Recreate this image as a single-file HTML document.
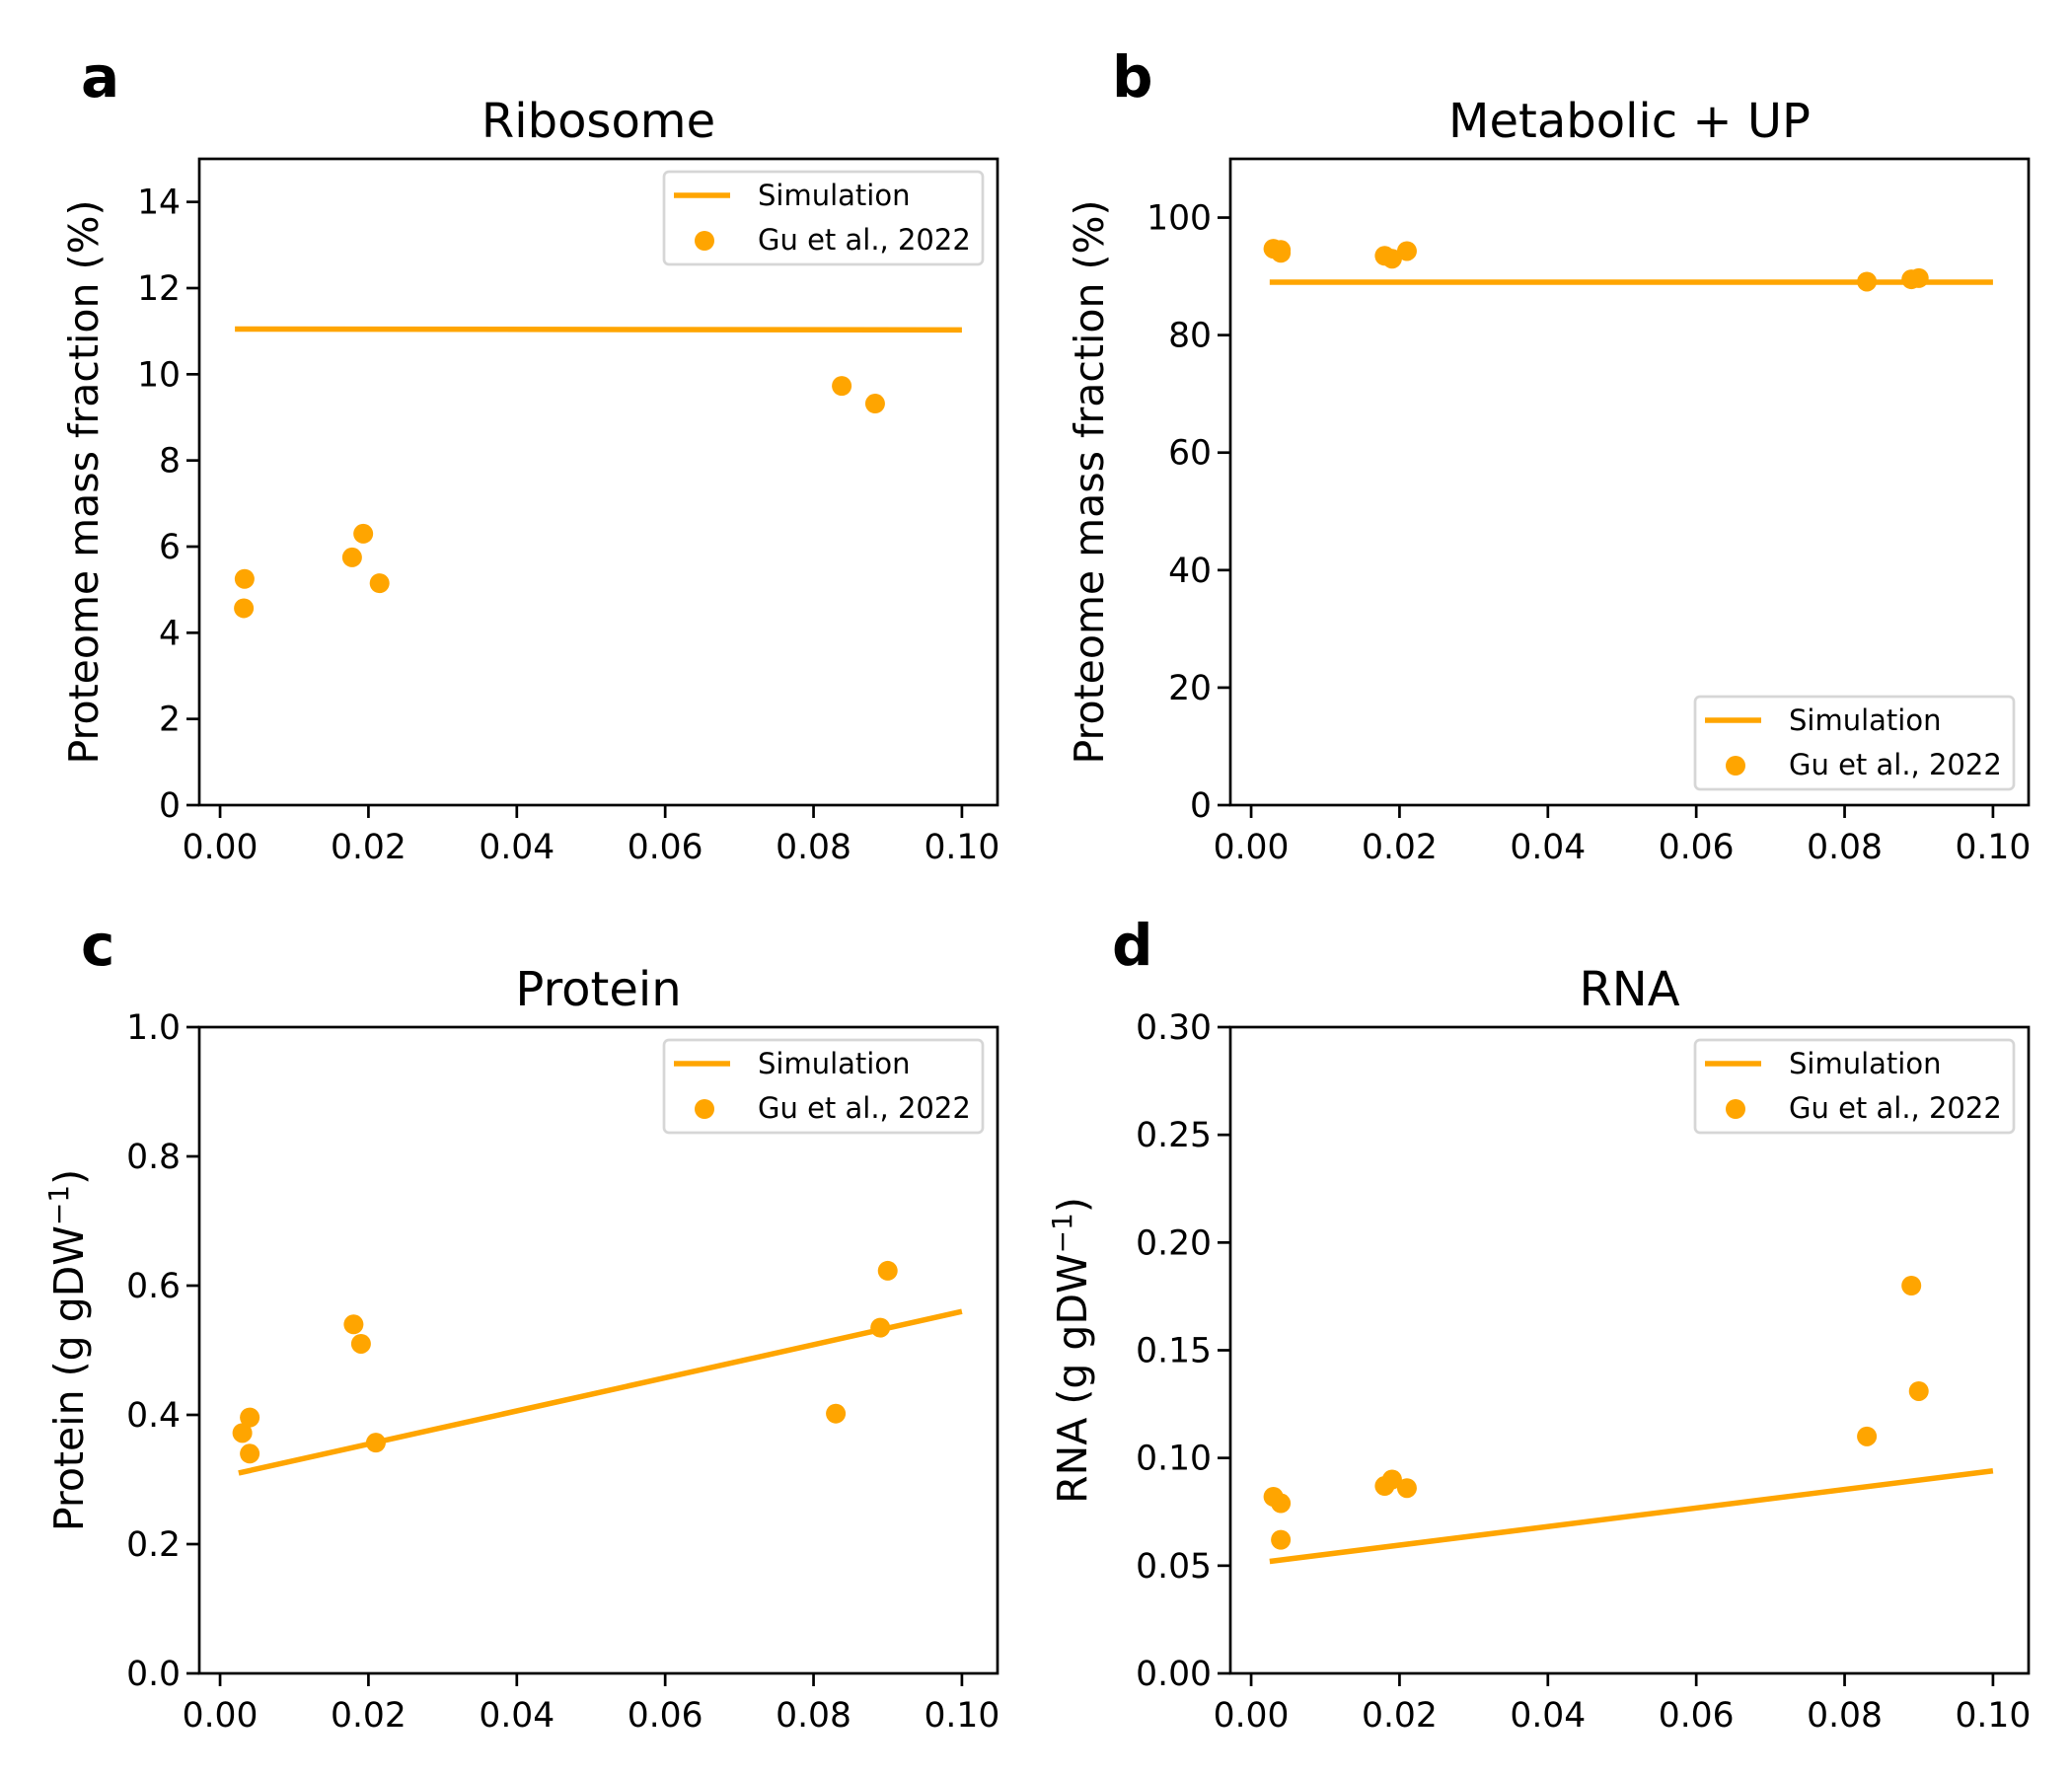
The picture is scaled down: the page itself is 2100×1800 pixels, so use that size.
<!DOCTYPE html>
<html><head><meta charset="utf-8"><style>
html,body{margin:0;padding:0;background:#fff;}
svg{display:block;font-family:"DejaVu Sans","Liberation Sans",sans-serif;}
</style></head><body>
<svg id="fig" width="2100" height="1800" viewBox="0 0 2100 1800" xmlns="http://www.w3.org/2000/svg"></svg>
<script>
const xTicks = [0, 0.02, 0.04, 0.06, 0.08, 0.1];
const xTickLabels = ["0.00","0.02","0.04","0.06","0.08","0.10"];
// Panel a: Ribosome
const aObsX = [0.0033,0.0032,0.0178,0.0193,0.0215,0.0838,0.0883];
const aObsY = [5.25,4.57,5.75,6.3,5.15,9.73,9.32];
const aSimX = [0.002,0.1];
const aSimY = [11.05,11.03];
const aYTicks = [0,2,4,6,8,10,12,14];
const aYLabels = ["0","2","4","6","8","10","12","14"];
// Panel b: Metabolic + UP
const bObsX = [0.003,0.004,0.004,0.018,0.019,0.021,0.083,0.089,0.090];
const bObsY = [94.7,94.5,94.0,93.5,93.0,94.3,89.1,89.5,89.7];
const bSimX = [0.0025,0.1];
const bSimY = [89,89];
const bYTicks = [0,20,40,60,80,100];
const bYLabels = ["0","20","40","60","80","100"];
// Panel c: Protein
const cObsX = [0.003,0.004,0.004,0.018,0.019,0.021,0.083,0.089,0.090];
const cObsY = [0.372,0.396,0.340,0.540,0.510,0.357,0.402,0.535,0.623];
const cSimX = [0.0025,0.1];
const cSimY = [0.31,0.56];
const cYTicks = [0,0.2,0.4,0.6,0.8,1.0];
const cYLabels = ["0.0","0.2","0.4","0.6","0.8","1.0"];
// Panel d: RNA
const dObsX = [0.003,0.004,0.004,0.018,0.019,0.021,0.083,0.089,0.090];
const dObsY = [0.082,0.079,0.062,0.087,0.090,0.086,0.110,0.180,0.131];
const dSimX = [0.0025,0.1];
const dSimY = [0.052,0.094];
const dYTicks = [0,0.05,0.1,0.15,0.2,0.25,0.3];
const dYLabels = ["0.00","0.05","0.10","0.15","0.20","0.25","0.30"];

const NS="http://www.w3.org/2000/svg";
const svg=document.getElementById('fig');
function mk(tag,attrs,parent,text){const e=document.createElementNS(NS,tag);for(const k in attrs)e.setAttribute(k,attrs[k]);if(text!==undefined)e.textContent=text;(parent||svg).appendChild(e);return e;}
const OR="#ffa500";
const XMIN=-0.0028, XMAX=0.1048;

function panel(o){
  const g=mk('g',{});
  
  
  const L=o.L,T=o.T,W=809,H=655;
  const sx=v=>L+(v-XMIN)/(XMAX-XMIN)*W;
  const sy=v=>T+H-(v-o.ymin)/(o.ymax-o.ymin)*H;
  const let_=mk('text',{x:o.lx,y:o.ly,'font-size':58,'font-weight':'bold'},g,o.id);
  
  
  const t=mk('text',{x:L+W/2,y:T-22,'font-size':48,'text-anchor':'middle'},g,o.title);
  
  
  const pts=o.simX.map((x,i)=>sx(x)+','+sy(o.simY[i])).join(' ');
  const ln=mk('polyline',{points:pts,fill:'none',stroke:OR,'stroke-width':5.5},g);
  
  
  o.obsX.forEach((x,i)=>{
    const c=mk('circle',{cx:sx(x),cy:sy(o.obsY[i]),r:10,fill:OR},g);
    
    
  });
  const fr=mk('rect',{x:L,y:T,width:W,height:H,fill:'none',stroke:'#000','stroke-width':2.7},g);
  
  
  xTicks.forEach((v,i)=>{
    const x=sx(v);
    mk('line',{x1:x,y1:T+H,x2:x,y2:T+H+13,stroke:'#000','stroke-width':2.7},g);
    const tl=mk('text',{x:x,y:T+H+54,'font-size':34.5,'text-anchor':'middle'},g,xTickLabels[i]);
    
    
  });
  o.yt.forEach((v,i)=>{
    const y=sy(v);
    mk('line',{x1:L-13,y1:y,x2:L,y2:y,stroke:'#000','stroke-width':2.7},g);
    const tl=mk('text',{x:L-19,y:y+12,'font-size':34.5,'text-anchor':'end'},g,o.yl[i]);
    
    
  });
  const yl=mk('text',{x:0,y:0,'font-size':41,'text-anchor':'middle',transform:`translate(${o.yx},${T+H/2}) rotate(-90)`},g);
  
  
  yl.innerHTML=o.ylabel;
  const lw=323,lh=94,lx=L+W-15-lw,ly=o.legBottom?T+H-16-lh:T+13;
  const lg=mk('g',{},g);
  
  
  mk('rect',{x:lx,y:ly,width:lw,height:lh,rx:5,fill:'#fff',stroke:'#d6d6d6','stroke-width':2.7},lg);
  mk('line',{x1:lx+10,y1:ly+24,x2:lx+67,y2:ly+24,stroke:OR,'stroke-width':5.5},lg);
  const t1=mk('text',{x:lx+95,y:ly+34,'font-size':29},lg,'Simulation');
  
  
  mk('circle',{cx:lx+41,cy:ly+70,r:10,fill:OR},lg);
  const t2=mk('text',{x:lx+95,y:ly+79,'font-size':29},lg,'Gu et al., 2022');
  
  
}
panel({id:'a',title:'Ribosome',L:202,T:161,lx:82,ly:98,ymin:0,ymax:15,yt:aYTicks,yl:aYLabels,obsX:aObsX,obsY:aObsY,simX:aSimX,simY:aSimY,yx:99,ylabel:'Proteome mass fraction (%)'});
panel({id:'b',title:'Metabolic + UP',L:1247,T:161,lx:1127,ly:98,ymin:0,ymax:110,yt:bYTicks,yl:bYLabels,obsX:bObsX,obsY:bObsY,simX:bSimX,simY:bSimY,yx:1118,ylabel:'Proteome mass fraction (%)',legBottom:true});
panel({id:'c',title:'Protein',L:202,T:1041,lx:82,ly:978,ymin:0,ymax:1,yt:cYTicks,yl:cYLabels,obsX:cObsX,obsY:cObsY,simX:cSimX,simY:cSimY,yx:84,ylabel:'Protein (g gDW<tspan dy="-15" font-size="28">−1</tspan><tspan dy="15">)</tspan>'});
panel({id:'d',title:'RNA',L:1247,T:1041,lx:1127,ly:978,ymin:0,ymax:0.3,yt:dYTicks,yl:dYLabels,obsX:dObsX,obsY:dObsY,simX:dSimX,simY:dSimY,yx:1101,ylabel:'RNA (g gDW<tspan dy="-15" font-size="28">−1</tspan><tspan dy="15">)</tspan>'});
</script>
</body></html>
